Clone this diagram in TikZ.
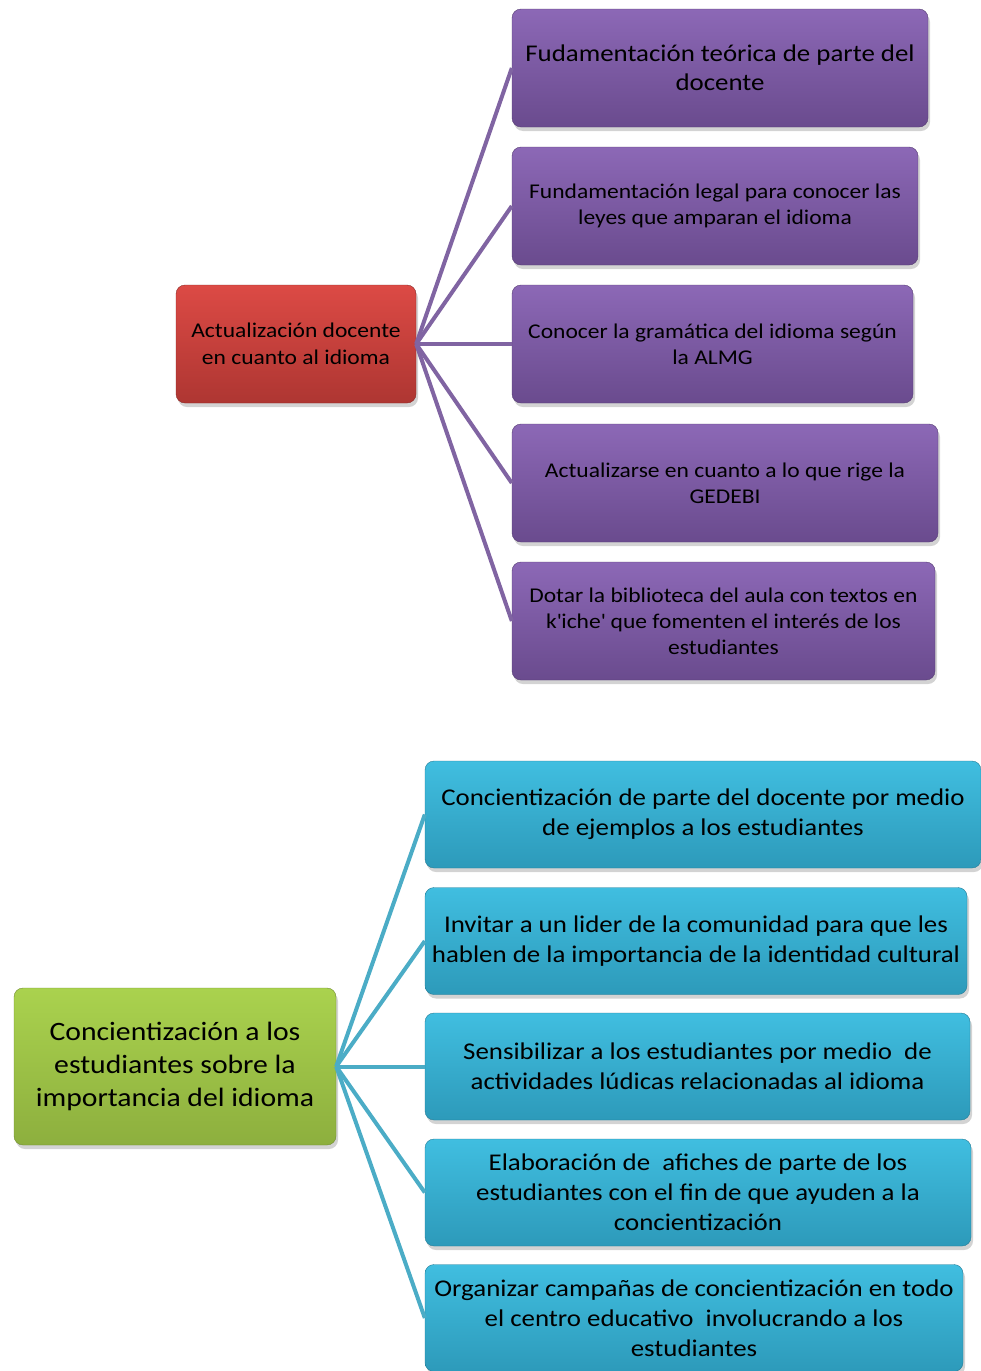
\documentclass[tikz,border=0pt]{standalone}
\usepackage{fontspec}
\setmainfont{Carlito}[FakeStretch=1.12]
\usepackage{tikz}
\usetikzlibrary{shadows}

\definecolor{redtop}{HTML}{DC4A45}
\definecolor{redbot}{HTML}{AE3632}
\definecolor{purtop}{HTML}{8C68B6}
\definecolor{purbot}{HTML}{6A4B8E}
\definecolor{purline}{HTML}{8064A2}
\definecolor{grntop}{HTML}{AAD24E}
\definecolor{grnbot}{HTML}{8DAF3E}
\definecolor{blutop}{HTML}{40BEE0}
\definecolor{blubot}{HTML}{2D9ABA}
\definecolor{bluline}{HTML}{4BACC6}

\tikzset{
  box/.style={rounded corners=9pt, align=center, inner sep=0pt, text=black,
    drop shadow={shadow xshift=2pt, shadow yshift=-4pt, opacity=0.35}},
  redbox/.style={box, top color=redtop, bottom color=redbot, draw=redbot!80!black,
    minimum width=240pt, minimum height=118pt, font=\fontsize{21}{27}\selectfont},
  purbox/.style={box, top color=purtop, bottom color=purbot, draw=purbot!80!black,
    minimum height=118pt, font=\fontsize{21}{26}\selectfont},
  grnbox/.style={box, top color=grntop, bottom color=grnbot, draw=grnbot!80!black,
    minimum width=322pt, minimum height=157pt, font=\fontsize{26.5}{33}\selectfont},
  blubox/.style={box, top color=blutop, bottom color=blubot, draw=blubot!80!black,
    minimum height=107pt, font=\fontsize{24}{30}\selectfont},
  purlink/.style={purline, line width=4pt},
  blulink/.style={bluline, line width=4pt}
}

\begin{document}
\begin{tikzpicture}[x=1pt, y=-1pt]
\useasboundingbox (0,0) rectangle (981,1371);

% draw top group
\node[redbox] (act) at (296,344) {Actualización docente\\en cuanto al idioma};
\node[purbox, minimum width=416pt, font=\fontsize{24}{29}\selectfont] (teo) at (720,68)
  {Fudamentación teórica de parte del\\docente};
\node[purbox, minimum width=406pt] (leg) at (715,206)
  {Fundamentación legal para conocer las\\leyes que amparan el idioma};
\node[purbox, minimum width=401pt] (gra) at (712.5,344)
  {Conocer la gramática del idioma según\\la ALMG};
\node[purbox, minimum width=426pt] (ged) at (725,483)
  {Actualizarse en cuanto a lo que rige la\\GEDEBI};
\node[purbox, minimum width=423pt] (bib) at (723.5,621)
  {Dotar la biblioteca del aula con textos en\\k\textquotesingle iche\textquotesingle{} que fomenten el interés de los\\estudiantes};

% draw top connectors
\foreach \n in {teo,leg,gra,ged,bib}
  \draw[purlink] (act.east) -- (\n.west);

% draw bottom group
\node[grnbox] (con) at (175,1066.5)
  {Concientización a los\\estudiantes sobre la\\importancia del idioma};
\node[blubox, minimum width=556pt] (eje) at (703,814.5)
  {Concientización de parte del docente por medio\\de ejemplos a los estudiantes};
\node[blubox, minimum width=542pt] (lid) at (696,941)
  {Invitar a un lider de la comunidad para que les\\hablen de la importancia de la identidad cultural};
\node[blubox, minimum width=545pt] (sen) at (697.5,1066.5)
  {Sensibilizar a los estudiantes por medio\ \ de\\actividades lúdicas relacionadas al idioma};
\node[blubox, minimum width=546pt] (afi) at (698,1192.5)
  {Elaboración de\ \ afiches de parte de los\\estudiantes con el fin de que ayuden a la\\concientización};
\node[blubox, minimum width=538pt] (cam) at (694,1318)
  {Organizar campañas de concientización en todo\\el centro educativo\ \ involucrando a los\\estudiantes};

% draw bottom connectors
\foreach \n in {eje,lid,sen,afi,cam}
  \draw[blulink] (con.east) -- (\n.west);
\end{tikzpicture}
\end{document}
